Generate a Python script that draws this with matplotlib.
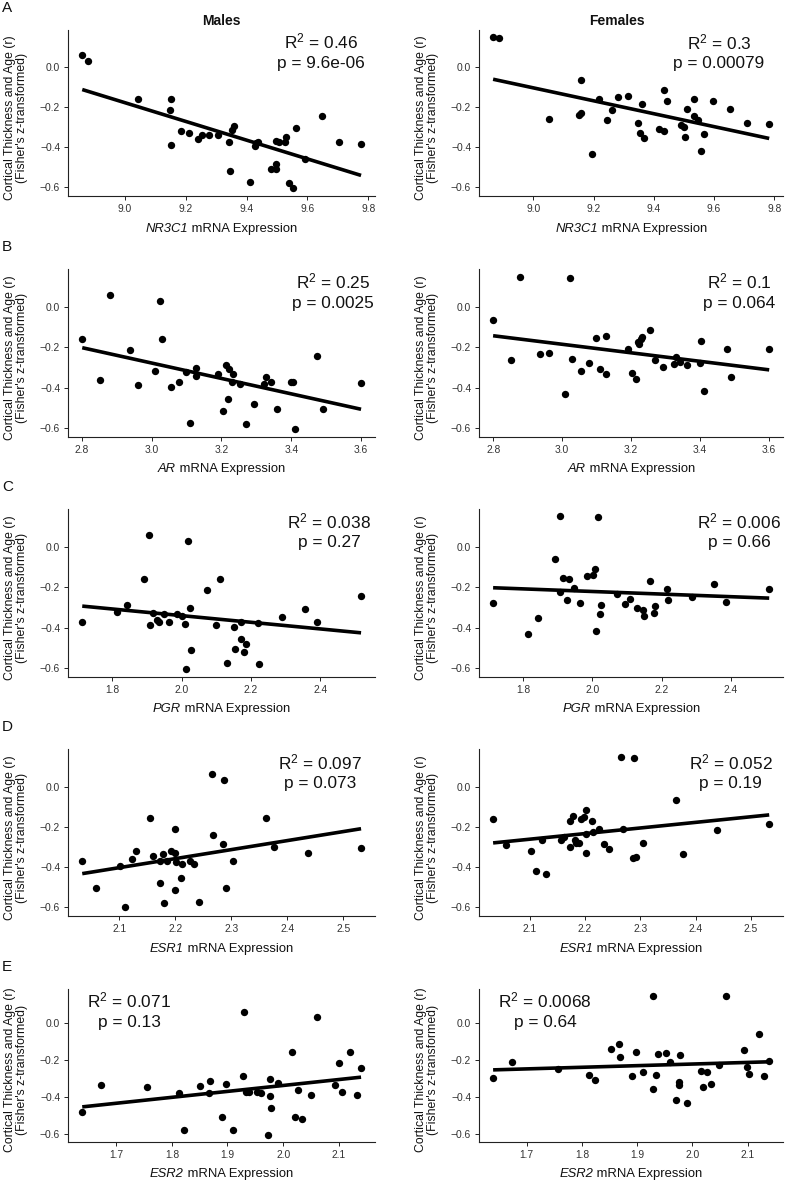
import numpy as np
import matplotlib
matplotlib.use("Agg")
import matplotlib.pyplot as plt
from matplotlib.offsetbox import TextArea, HPacker, AnnotationBbox

plt.rcParams['font.family'] = ['Liberation Sans', 'DejaVu Sans']
plt.rcParams['mathtext.fontset'] = 'custom'
plt.rcParams['mathtext.rm'] = 'Liberation Sans'
plt.rcParams['mathtext.it'] = 'Liberation Sans:italic'
plt.rcParams['mathtext.bf'] = 'Liberation Sans:bold'
plt.rcParams['mathtext.default'] = 'rm'

# ---------------- data ----------------
genes = ["NR3C1", "AR", "PGR", "ESR1", "ESR2"]
panel_letters = ["A", "B", "C", "D", "E"]
column_titles = ["Males", "Females"]

x_nr3c1_m = [8.860, 8.879, 9.044, 9.153, 9.147, 9.151, 9.186, 9.212, 9.241, 9.254, 9.275, 9.307,
             9.343, 9.347, 9.353, 9.359, 9.411, 9.428, 9.430, 9.438, 9.481, 9.495, 9.495, 9.497,
             9.506, 9.526, 9.528, 9.539, 9.552, 9.561, 9.591, 9.647, 9.702, 9.776]
y_nr3c1_m = [0.061, 0.030, -0.159, -0.159, -0.213, -0.387, -0.319, -0.326, -0.360, -0.337, -0.336, -0.339,
             -0.375, -0.519, -0.311, -0.291, -0.575, -0.395, -0.380, -0.372, -0.509, -0.509, -0.481, -0.370,
             -0.375, -0.372, -0.347, -0.579, -0.603, -0.302, -0.458, -0.243, -0.372, -0.385]
x_nr3c1_f = [8.866, 8.886, 9.050, 9.158, 9.152, 9.158, 9.193, 9.217, 9.245, 9.260, 9.281, 9.313,
             9.348, 9.353, 9.359, 9.366, 9.417, 9.434, 9.435, 9.442, 9.489, 9.501, 9.503, 9.510,
             9.533, 9.533, 9.546, 9.557, 9.567, 9.597, 9.652, 9.709, 9.783]
y_nr3c1_f = [0.149, 0.145, -0.260, -0.063, -0.236, -0.228, -0.435, -0.157, -0.264, -0.213, -0.147, -0.144,
             -0.279, -0.329, -0.185, -0.355, -0.306, -0.112, -0.317, -0.169, -0.289, -0.298, -0.347, -0.210,
             -0.160, -0.245, -0.261, -0.418, -0.332, -0.170, -0.208, -0.279, -0.284]

x_ar_m = [2.801, 2.852, 2.880, 2.937, 2.962, 3.009, 3.023, 3.029, 3.054, 3.077, 3.098, 3.111,
          3.127, 3.127, 3.189, 3.203, 3.214, 3.219, 3.222, 3.229, 3.232, 3.254, 3.269, 3.294,
          3.323, 3.329, 3.341, 3.360, 3.400, 3.405, 3.412, 3.475, 3.491, 3.600]
y_ar_m = [-0.160, -0.360, 0.058, -0.215, -0.388, -0.319, 0.028, -0.160, -0.398, -0.373, -0.324, -0.576,
          -0.303, -0.340, -0.334, -0.518, -0.288, -0.457, -0.309, -0.372, -0.334, -0.380, -0.579, -0.479,
          -0.382, -0.345, -0.372, -0.507, -0.372, -0.372, -0.604, -0.242, -0.507, -0.375]
x_ar_f = [2.799, 2.850, 2.878, 2.936, 2.962, 3.023, 3.009, 3.029, 3.054, 3.077, 3.098, 3.111,
          3.126, 3.126, 3.190, 3.203, 3.214, 3.220, 3.224, 3.229, 3.232, 3.256, 3.270, 3.294,
          3.324, 3.330, 3.342, 3.362, 3.401, 3.405, 3.412, 3.478, 3.492, 3.602]
y_ar_f = [-0.063, -0.263, 0.148, -0.235, -0.227, 0.143, -0.433, -0.260, -0.316, -0.280, -0.156, -0.308,
          -0.143, -0.332, -0.211, -0.326, -0.355, -0.173, -0.186, -0.161, -0.148, -0.113, -0.263, -0.298,
          -0.283, -0.248, -0.273, -0.286, -0.280, -0.169, -0.416, -0.209, -0.347, -0.211]

x_pgr_m = [1.713, 1.813, 1.843, 1.892, 1.907, 1.909, 1.917, 1.928, 1.935, 1.949, 1.964, 1.986,
           2.002, 2.009, 2.013, 2.017, 2.023, 2.028, 2.074, 2.098, 2.112, 2.131, 2.150, 2.153,
           2.172, 2.172, 2.181, 2.186, 2.220, 2.224, 2.291, 2.356, 2.392, 2.518]
y_pgr_m = [-0.374, -0.321, -0.288, -0.157, 0.060, -0.387, -0.326, -0.362, -0.372, -0.334, -0.372, -0.332,
           -0.340, -0.380, -0.603, 0.030, -0.302, -0.509, -0.213, -0.387, -0.157, -0.575, -0.397, -0.507,
           -0.458, -0.372, -0.519, -0.479, -0.375, -0.579, -0.347, -0.309, -0.370, -0.241]
x_pgr_f = [1.712, 1.813, 1.842, 1.891, 1.907, 1.907, 1.914, 1.927, 1.933, 1.947, 1.963, 1.984,
           2.001, 2.007, 2.011, 2.016, 2.021, 2.025, 2.071, 2.095, 2.109, 2.128, 2.147, 2.150,
           2.168, 2.177, 2.180, 2.216, 2.220, 2.287, 2.351, 2.387, 2.512]
y_pgr_f = [-0.278, -0.431, -0.352, -0.060, 0.152, -0.223, -0.154, -0.261, -0.159, -0.205, -0.278, -0.145,
           -0.140, -0.109, -0.415, 0.147, -0.331, -0.286, -0.233, -0.281, -0.260, -0.302, -0.311, -0.344,
           -0.167, -0.327, -0.294, -0.207, -0.261, -0.246, -0.182, -0.273, -0.207]

x_esr1_m = [2.034, 2.058, 2.101, 2.111, 2.122, 2.130, 2.155, 2.161, 2.173, 2.173, 2.179, 2.180,
            2.186, 2.193, 2.199, 2.199, 2.200, 2.201, 2.211, 2.212, 2.226, 2.234, 2.243, 2.265,
            2.268, 2.286, 2.288, 2.291, 2.304, 2.363, 2.376, 2.438, 2.532]
y_esr1_m = [-0.370, -0.504, -0.395, -0.600, -0.359, -0.319, -0.155, -0.345, -0.478, -0.369, -0.337, -0.577,
            -0.369, -0.321, -0.331, -0.516, -0.212, -0.375, -0.453, -0.385, -0.370, -0.383, -0.574, 0.062,
            -0.240, -0.286, 0.031, -0.504, -0.369, -0.155, -0.301, -0.332, -0.307]
x_esr1_f = [2.034, 2.058, 2.102, 2.111, 2.122, 2.130, 2.156, 2.162, 2.173, 2.173, 2.179, 2.182,
            2.183, 2.189, 2.193, 2.199, 2.201, 2.201, 2.202, 2.212, 2.214, 2.225, 2.235, 2.244,
            2.266, 2.269, 2.288, 2.286, 2.292, 2.305, 2.364, 2.377, 2.439, 2.533]
y_esr1_f = [-0.162, -0.291, -0.319, -0.418, -0.266, -0.436, -0.263, -0.248, -0.170, -0.299, -0.145, -0.264,
            -0.281, -0.281, -0.162, -0.149, -0.236, -0.329, -0.114, -0.170, -0.226, -0.210, -0.283, -0.309,
            0.149, -0.210, 0.142, -0.357, -0.349, -0.278, -0.064, -0.336, -0.213, -0.187]

x_esr2_m = [1.639, 1.673, 1.756, 1.812, 1.822, 1.851, 1.868, 1.867, 1.891, 1.897, 1.910, 1.928,
            1.930, 1.934, 1.939, 1.953, 1.960, 1.972, 1.976, 1.976, 1.978, 1.991, 2.016, 2.021,
            2.027, 2.033, 2.050, 2.060, 2.094, 2.100, 2.105, 2.120, 2.132, 2.140]
y_esr2_m = [-0.479, -0.336, -0.347, -0.376, -0.578, -0.341, -0.312, -0.380, -0.510, -0.327, -0.582, -0.288,
            0.064, -0.372, -0.372, -0.372, -0.376, -0.606, -0.301, -0.396, -0.459, -0.321, -0.156, -0.508,
            -0.363, -0.521, -0.387, 0.035, -0.334, -0.215, -0.371, -0.156, -0.387, -0.242]
x_esr2_f = [1.639, 1.673, 1.756, 1.812, 1.823, 1.852, 1.867, 1.868, 1.891, 1.897, 1.910, 1.928,
            1.929, 1.934, 1.938, 1.952, 1.960, 1.971, 1.976, 1.976, 1.978, 1.990, 2.016, 2.020,
            2.026, 2.033, 2.049, 2.060, 2.094, 2.099, 2.103, 2.120, 2.130, 2.139]
y_esr2_f = [-0.297, -0.211, -0.246, -0.279, -0.306, -0.141, -0.110, -0.183, -0.288, -0.156, -0.262, -0.354,
            0.152, -0.279, -0.167, -0.160, -0.207, -0.417, -0.317, -0.334, -0.169, -0.435, -0.261, -0.347,
            -0.262, -0.327, -0.226, 0.149, -0.143, -0.235, -0.273, -0.059, -0.283, -0.206]

r2_labels_m = ["0.46", "0.25", "0.038", "0.097", "0.071"]
p_labels_m = ["9.6e-06", "0.0025", "0.27", "0.073", "0.13"]
r2_labels_f = ["0.3", "0.1", "0.006", "0.052", "0.0068"]
p_labels_f = ["0.00079", "0.064", "0.66", "0.19", "0.64"]

x_ticks = [[9.0, 9.2, 9.4, 9.6, 9.8],
           [2.8, 3.0, 3.2, 3.4, 3.6],
           [1.8, 2.0, 2.2, 2.4],
           [2.1, 2.2, 2.3, 2.4, 2.5],
           [1.7, 1.8, 1.9, 2.0, 2.1]]
y_ticks = [0.0, -0.2, -0.4, -0.6]

data_m = [(x_nr3c1_m, y_nr3c1_m), (x_ar_m, y_ar_m), (x_pgr_m, y_pgr_m), (x_esr1_m, y_esr1_m), (x_esr2_m, y_esr2_m)]
data_f = [(x_nr3c1_f, y_nr3c1_f), (x_ar_f, y_ar_f), (x_pgr_f, y_pgr_f), (x_esr1_f, y_esr1_f), (x_esr2_f, y_esr2_f)]

# ---------------- layout (pixels) ----------------
W, H = 789, 1183
col_x = [(68.3, 306.7), (479.3, 303.7)]
row_y = [(30, 196), (269.3, 436.7), (509.3, 676.7), (749.3, 916), (989.3, 1141.7)]
annot_pos_m = [(0.824, 0.864), (0.863, 0.861), (0.85, 0.864), (0.82, 0.858), (0.198, 0.853)]
annot_pos_f = [(0.789, 0.861), (0.857, 0.861), (0.855, 0.864), (0.828, 0.858), (0.217, 0.853)]

fig = plt.figure(figsize=(W / 100, H / 100), dpi=100)
spine_col = '#222222'
tick_col = '#333333'
txt_col = '#111111'

for r in range(5):
    top, bot = row_y[r]
    h = bot - top
    for c in range(2):
        x0, w = col_x[c]
        ax = fig.add_axes([x0 / W, 1 - bot / H, w / W, h / H])
        xs, ys = (data_m if c == 0 else data_f)[r]
        xs = np.asarray(xs); ys = np.asarray(ys)
        ax.scatter(xs, ys, s=28, color='black', zorder=3, linewidths=0)
        k, b = np.polyfit(xs, ys, 1)
        xl = np.array([xs.min(), xs.max()])
        ax.plot(xl, k * xl + b, color='black', lw=2.6, solid_capstyle='butt', zorder=2)
        ax.set_ylim(-0.643, 0.186)
        ax.set_xticks(x_ticks[r])
        ax.set_xticklabels([f"{t:.1f}" for t in x_ticks[r]])
        ax.set_yticks(y_ticks)
        ax.set_yticklabels(["0.0", "\u22120.2", "\u22120.4", "\u22120.6"])
        for s in ['top', 'right']:
            ax.spines[s].set_visible(False)
        for s in ['left', 'bottom']:
            ax.spines[s].set_color(spine_col)
            ax.spines[s].set_linewidth(0.8)
        ax.tick_params(axis='both', length=3, width=0.7, color=spine_col,
                       labelsize=7.4, labelcolor=tick_col, pad=2.8)
        # x label: italic gene name + regular text
        ta1 = TextArea(genes[r], textprops=dict(fontsize=9.4, style='italic', color=txt_col))
        ta2 = TextArea(" mRNA Expression", textprops=dict(fontsize=9.4, color=txt_col))
        pack = HPacker(children=[ta1, ta2], align='baseline', pad=0, sep=0)
        ab = AnnotationBbox(pack, (0.5, -32.7 / h), xycoords='axes fraction',
                            box_alignment=(0.5, 0.5), frameon=False, pad=0,
                            annotation_clip=False)
        ax.add_artist(ab)
        # y label
        ax.text(-58.3 / w, 0.47, "Cortical Thickness and Age (r)", transform=ax.transAxes,
                rotation=90, ha='center', va='center', fontsize=8.8, color=txt_col)
        ax.text(-46.6 / w, 0.47, "(Fisher's z-transformed)", transform=ax.transAxes,
                rotation=90, ha='center', va='center', fontsize=8.8, color=txt_col)
        # annotation
        ax_, ay_ = (annot_pos_m if c == 0 else annot_pos_f)[r]
        r2 = (r2_labels_m if c == 0 else r2_labels_f)[r]
        pv = (p_labels_m if c == 0 else p_labels_f)[r]
        ax.text(ax_, ay_ + 10.8 / h, r'R$^2$ = ' + r2, transform=ax.transAxes,
                ha='center', va='center', fontsize=12.4, color=txt_col)
        ax.text(ax_, ay_ - 10.8 / h, 'p = ' + pv, transform=ax.transAxes,
                ha='center', va='center', fontsize=12.4, color=txt_col)
    # panel letter
    fig.text(2 / W, 1 - (top - 22) / H, panel_letters[r], ha='left', va='center',
             fontsize=11, color=txt_col)

fig.text(221 / W, 1 - 20.7 / H, column_titles[0], ha='center', va='center',
         fontsize=10, fontweight='bold', color=txt_col)
fig.text(616.7 / W, 1 - 20.7 / H, column_titles[1], ha='center', va='center',
         fontsize=10, fontweight='bold', color=txt_col)

fig.savefig("out.png", dpi=100, facecolor='white')
